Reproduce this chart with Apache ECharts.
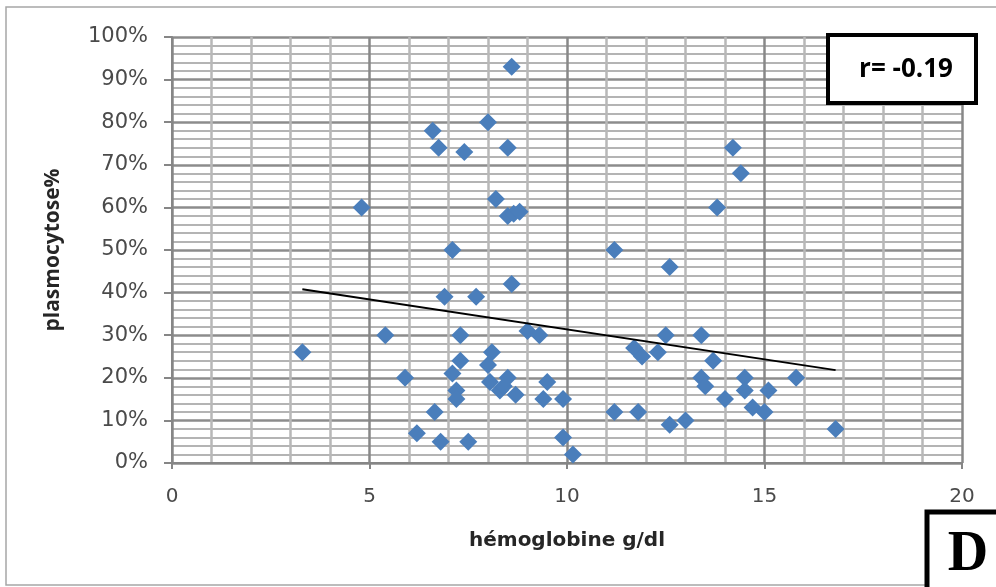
<!DOCTYPE html>
<html>
<head>
<meta charset="utf-8">
<script src="https://cdn.jsdelivr.net/npm/echarts@6/dist/echarts.min.js"></script>
<style>
  html, body { margin: 0; padding: 0; background: #ffffff; }
  #chart { width: 996px; height: 587px; }
</style>
</head>
<body>
<div id="chart"></div>
<script>
// hémoglobine (g/dl)
const hemoglobine = [3.3, 4.8, 5.4, 5.9, 6.2, 6.6, 6.65, 6.75, 6.8, 6.9, 7.1, 7.1, 7.2, 7.2, 7.3, 7.3, 7.4, 7.5, 7.7, 8.0, 8.0, 8.1, 8.05, 8.2, 8.3, 8.4, 8.5, 8.5, 8.5, 8.6, 8.6, 8.7, 8.65, 8.8, 9.0, 9.3, 9.4, 9.5, 9.9, 9.9, 10.15, 11.2, 11.2, 11.7, 11.8, 11.9, 12.3, 12.5, 12.6, 12.6, 13.0, 13.4, 13.4, 13.5, 13.7, 13.8, 14.0, 14.2, 14.4, 14.5, 14.5, 14.7, 15.0, 15.1, 15.8, 16.8];
// plasmocytose (%)
const plasmocytose = [26, 60, 30, 20, 7, 78, 12, 74, 5, 39, 50, 21, 17, 15, 30, 24, 73, 5, 39, 80, 23, 26, 19, 62, 17, 18, 20, 74, 58, 93, 42, 16, 58.5, 59, 31, 30, 15, 19, 15, 6, 2, 50, 12, 27, 12, 25, 26, 30, 46, 9, 10, 30, 20, 18, 24, 60, 15, 74, 68, 20, 17, 13, 12, 17, 20, 8];
// trend line end points
const trendX = [3.3, 16.8];
const trendY = [40.8, 21.8];
const xTicks = [0, 5, 10, 15, 20];
const yTicks = [0, 10, 20, 30, 40, 50, 60, 70, 80, 90, 100];
const rLabel = 'r= -0.19';
const panelLabel = 'D';

const chart = echarts.init(document.getElementById('chart'));
const wideFont = '"DejaVu Sans", sans-serif';
const boldFont = '"Open Sans", sans-serif';
const option = {
  animation: false,
  backgroundColor: '#ffffff',
  grid: { left: 172, right: 34, top: 37, bottom: 124, containLabel: false },
  xAxis: {
    type: 'value', min: xTicks[0], max: xTicks[xTicks.length - 1], interval: 5,
    name: 'hémoglobine g/dl', nameLocation: 'middle', nameGap: 68,
    nameTextStyle: { fontFamily: wideFont, fontWeight: 'bold', fontSize: 20, color: '#262626' },
    axisLine: { show: true, lineStyle: { color: '#868686', width: 2 } },
    axisTick: { show: true, length: 6, lineStyle: { color: '#868686', width: 2 } },
    axisLabel: { margin: 24, fontFamily: wideFont, fontSize: 20, color: '#4a4a4a' },
    splitLine: { show: true, lineStyle: { color: '#888888', width: 2.5 } },
    minorTick: { show: false, splitNumber: 5 },
    minorSplitLine: { show: true, lineStyle: { color: '#b8b8b8', width: 2.5 } }
  },
  yAxis: {
    type: 'value', min: yTicks[0], max: yTicks[yTicks.length - 1], interval: 10,
    name: 'plasmocytose%', nameLocation: 'middle', nameGap: 108, nameRotate: 90,
    nameTextStyle: { fontFamily: boldFont, fontWeight: 'bold', fontSize: 21, color: '#262626' },
    axisLine: { show: true, lineStyle: { color: '#868686', width: 2 } },
    axisTick: { show: true, length: 8, lineStyle: { color: '#868686', width: 2 } },
    axisLabel: { margin: 24, fontFamily: wideFont, fontSize: 21, color: '#4a4a4a', formatter: '{value}%' },
    splitLine: { show: true, lineStyle: { color: '#8c8c8c', width: 2.5 } },
    minorTick: { show: false, splitNumber: 5 },
    minorSplitLine: { show: true, lineStyle: { color: '#b4b4b4', width: 2 } }
  },
  series: [
    {
      type: 'scatter',
      data: hemoglobine.map((x, i) => [x, plasmocytose[i]]),
      symbol: 'diamond', symbolSize: 18,
      itemStyle: { color: '#4a7ebb', opacity: 1 },
      z: 3
    },
    {
      type: 'line',
      data: trendX.map((x, i) => [x, trendY[i]]),
      showSymbol: false, symbol: 'none',
      lineStyle: { color: '#000000', width: 2 },
      z: 4
    }
  ],
  graphic: [
    { type: 'rect', shape: { x: 6, y: 7, width: 1000, height: 578 }, style: { fill: 'none', stroke: '#a6a6a6', lineWidth: 1.5 }, z: 0, silent: true },
    { type: 'rect', shape: { x: 828, y: 35, width: 148, height: 68 }, style: { fill: '#ffffff', stroke: '#000000', lineWidth: 4 }, z: 10 },
    { type: 'text', x: 906, y: 70, style: { text: rLabel, fontFamily: boldFont, fontWeight: 'bold', fontSize: 26, fill: '#000000', align: 'center', verticalAlign: 'middle' }, z: 11 },
    { type: 'rect', shape: { x: 927, y: 512, width: 100, height: 100 }, style: { fill: '#ffffff', stroke: '#000000', lineWidth: 5 }, z: 10 },
    { type: 'text', x: 968, y: 556, style: { text: panelLabel, fontFamily: '"Liberation Serif", "DejaVu Serif", serif', fontWeight: 'bold', fontSize: 56, fill: '#000000', align: 'center', verticalAlign: 'middle' }, z: 11 }
  ]
};
chart.setOption(option);
</script>
</body>
</html>
